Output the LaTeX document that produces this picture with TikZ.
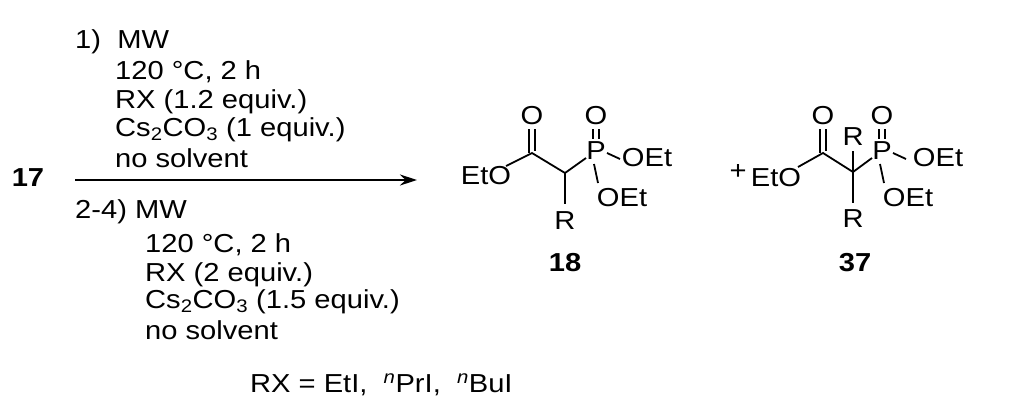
\documentclass[tikz,border=0pt]{standalone}
\usepackage{fontspec}
\usetikzlibrary{arrows.meta}
\setmainfont[FakeStretch=1.12]{Liberation Sans}
\begin{document}
\begin{tikzpicture}[x=1pt,y=-1pt,
  every node/.style={font=\fontsize{26}{30}\selectfont,inner sep=0pt},
  txt/.style={anchor=west},
  bnd/.style={line width=1.8pt},
  lbl/.style={font=\fontsize{26}{30}\selectfont\bfseries}]
\useasboundingbox (0,0) rectangle (1024,413);
\node[lbl] (n17) at (28,178) {17};
\coordinate (a1) at (75,180); \coordinate (a2) at (417,180);
\draw[line width=1.5pt,-{Stealth[length=17pt,width=11pt]}] (a1) -- (a2);
\node[txt] (t1) at (75,42) {1)\ \ MW};
\node[txt] (t2) at (115,72) {120 °C, 2 h};
\node[txt] (t3) at (115,102) {RX (1.2 equiv.)};
\node[txt] (t4) at (115,130) {Cs\textsubscript{2}CO\textsubscript{3} (1 equiv.)};
\node[txt] (t5) at (115,158) {no solvent};
\node[txt] (t6) at (75,212) {2-4) MW};
\node[txt] (t7) at (145,245) {120 °C, 2 h};
\node[txt] (t8) at (145,275) {RX (2 equiv.)};
\node[txt] (t9) at (145,302) {Cs\textsubscript{2}CO\textsubscript{3} (1.5 equiv.)};
\node[txt] (t10) at (145,330) {no solvent};
\node[txt] (t11) at (250,385) {RX = EtI,\ \ \textsuperscript{\itshape n}PrI,\ \ \textsuperscript{\itshape n}BuI};
% molecule 18
\node (eto1) at (486,176) {EtO};
\coordinate (c1) at (532,153);
\node (o1) at (532,116) {O};
\coordinate (ch1) at (565,173);
\node (r1) at (565,221) {R};
\node (p1) at (596,151) {P};
\node (po1) at (596,116) {O};
\node (oe1) at (647,158) {OEt};
\node (oe2) at (622,198) {OEt};
\coordinate (e1) at (506,166);
\draw[bnd] (e1) -- (c1) -- (ch1) -- (586,158);
\draw[bnd] (ch1) -- (565,204);
\draw[bnd] (529,129) -- (529,153);
\draw[bnd] (535,129) -- (535,151);
\draw[bnd] (593,129) -- (593,139);
\draw[bnd] (599,129) -- (599,139);
\draw[bnd] (607,153) -- (620,159);
\draw[bnd] (594,164) -- (598,183);
\node[lbl] (l18) at (565,263) {18};
\node (plus) at (738,172) {+};
% molecule 37
\node (eto2) at (776,178) {EtO};
\coordinate (c2) at (823,153);
\node (o2) at (823,116) {O};
\coordinate (cq) at (853,172);
\node (rt) at (853,137) {R};
\node (rb) at (853,219) {R};
\node (p2) at (882,151) {P};
\node (po2) at (882,116) {O};
\node (oe3) at (938,158) {OEt};
\node (oe4) at (908,198) {OEt};
\draw[bnd] (798,167) -- (c2) -- (cq) -- (872,158);
\draw[bnd] (853,151) -- (853,203);
\draw[bnd] (820,129) -- (820,153);
\draw[bnd] (826,129) -- (826,151);
\draw[bnd] (879,129) -- (879,139);
\draw[bnd] (885,129) -- (885,139);
\draw[bnd] (893,153) -- (906,159);
\draw[bnd] (880,164) -- (884,183);
\node[lbl] (l37) at (855,263) {37};
\end{tikzpicture}
\end{document}
